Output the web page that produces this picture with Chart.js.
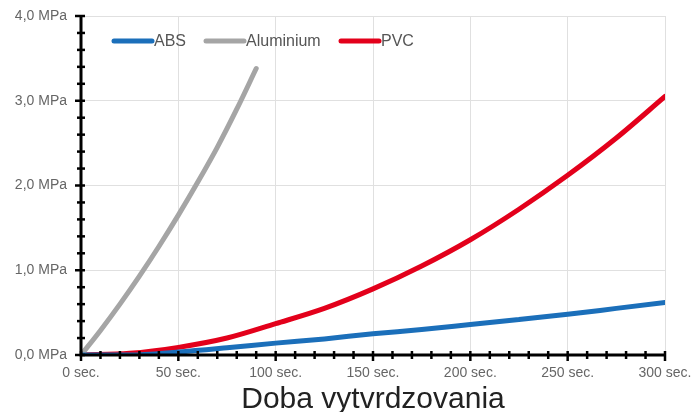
<!DOCTYPE html>
<html><head><meta charset="utf-8">
<script src="https://cdn.jsdelivr.net/npm/chart.js@4/dist/chart.umd.min.js"></script>
<style>html,body{margin:0;padding:0;background:#fff}#wrap{width:694px;height:412px;overflow:hidden}</style>
</head><body><div id="wrap"><canvas id="c" width="694" height="412"></canvas></div>
<script>
const seriesNames = ['ABS', 'Aluminium', 'PVC'];
const absTimes = [0, 25, 50, 75, 100, 125, 150, 175, 200, 225, 250, 275, 300];
const absValues = [0, 0.0, 0.035, 0.085, 0.14, 0.19, 0.25, 0.3, 0.36, 0.42, 0.48, 0.55, 0.62];
const aluTimes = [0, 10, 20, 30, 40, 50, 60, 70, 80, 90];
const aluValues = [0, 0.29, 0.6, 0.93, 1.28, 1.65, 2.04, 2.45, 2.9, 3.38];
const pvcTimes = [0, 25, 50, 75, 100, 125, 150, 175, 200, 225, 250, 275, 300];
const pvcValues = [0, 0.02, 0.09, 0.2, 0.37, 0.55, 0.78, 1.05, 1.36, 1.72, 2.12, 2.56, 3.05];
const xAxisTitle = 'Doba vytvrdzovania';
const colors = ['#1b6fba', '#a5a5a5', '#e3001b'];

const pts = (t, v) => t.map((x, i) => ({x: x, y: v[i]}));
const seriesData = [pts(absTimes, absValues), pts(aluTimes, aluValues), pts(pvcTimes, pvcValues)];

const FONT = '"Liberation Sans", Arial, sans-serif';

const axisTicks = {
  id: 'axisTicks',
  afterDatasetsDraw(chart) {
    const ctx = chart.ctx;
    const xs = chart.scales.x, ys = chart.scales.y;
    const ca = chart.chartArea;
    ctx.save();
    ctx.strokeStyle = '#000';
    ctx.lineWidth = 2.5;
    xs.ticks.forEach(t => {
      const px = xs.getPixelForValue(t.value);
      const major = Math.round(t.value) % 50 === 0;
      ctx.beginPath();
      ctx.moveTo(px, ca.bottom - 4);
      ctx.lineTo(px, ca.bottom + (major ? 6 : 4));
      ctx.stroke();
    });
    ys.ticks.forEach(t => {
      const py = ys.getPixelForValue(t.value);
      const major = Math.abs(t.value - Math.round(t.value)) < 1e-6;
      ctx.beginPath();
      ctx.moveTo(ca.left - (major ? 6 : 4), py);
      ctx.lineTo(ca.left + 4, py);
      ctx.stroke();
    });
    ctx.lineWidth = 3;
    ctx.beginPath();
    ctx.moveTo(ca.left, ca.top - 1);
    ctx.lineTo(ca.left, ca.bottom);
    ctx.lineTo(ca.right + 1, ca.bottom);
    ctx.stroke();
    ctx.restore();
  }
};

const legendPlugin = {
  id: 'customLegend',
  afterDraw(chart) {
    const ctx = chart.ctx;
    const starts = [114, 206, 341];
    const y = 41;
    ctx.save();
    ctx.font = '16px ' + FONT;
    ctx.textBaseline = 'middle';
    chart.data.datasets.forEach((ds, i) => {
      const x = starts[i];
      ctx.strokeStyle = ds.borderColor;
      ctx.lineWidth = 5;
      ctx.lineCap = 'round';
      ctx.beginPath();
      ctx.moveTo(x, y);
      ctx.lineTo(x + 38, y);
      ctx.stroke();
      ctx.fillStyle = '#555';
      ctx.fillText(ds.label, x + 40, y + 1);
    });
    ctx.restore();
  }
};

new Chart(document.getElementById('c'), {
  type: 'line',
  data: {
    datasets: seriesNames.map((n, i) => ({
      label: n,
      data: seriesData[i],
      borderColor: colors[i],
      backgroundColor: colors[i],
      borderWidth: 5,
      pointRadius: 0,
      fill: false,
      cubicInterpolationMode: 'monotone',
      borderCapStyle: 'round'
    }))
  },
  options: {
    responsive: false,
    animation: false,
    layout: {padding: {top: 16, right: 29, bottom: 0, left: 0}},
    plugins: {legend: {display: false}, tooltip: {enabled: false}},
    scales: {
      x: {
        type: 'linear', min: 0, max: 300,
        border: {display: false},
        ticks: {
          stepSize: 10, autoSkip: false, maxRotation: 0, padding: 10,
          color: '#666', font: {family: FONT, size: 14},
          callback: v => (v % 50 === 0 ? v + ' sec.' : '')
        },
        grid: {
          drawTicks: false,
          color: c => (c.tick && c.tick.value % 50 === 0 ? '#e0e0e0' : 'rgba(0,0,0,0)'),
          lineWidth: 1
        },
        title: {display: true, text: xAxisTitle, color: '#222', font: {family: FONT, size: 30}, padding: {top: 4, bottom: -6}},
        afterFit: s => { s.height = 57; s.paddingLeft = 0; s.paddingRight = 0; }
      },
      y: {
        min: 0, max: 4,
        border: {display: false},
        ticks: {
          stepSize: 0.2, autoSkip: false, padding: 14,
          color: '#666', font: {family: FONT, size: 14},
          callback: v => (Math.abs(v - Math.round(v)) < 1e-6 ? v.toFixed(1).replace('.', ',') + ' MPa' : '')
        },
        grid: {
          drawTicks: false,
          color: c => (c.tick && Math.abs(c.tick.value - Math.round(c.tick.value)) < 1e-6 ? '#e0e0e0' : 'rgba(0,0,0,0)'),
          lineWidth: 1
        },
        afterFit: s => { s.width = 81; s.paddingTop = 0; s.paddingBottom = 0; }
      }
    }
  },
  plugins: [axisTicks, legendPlugin]
});
</script></body></html>
